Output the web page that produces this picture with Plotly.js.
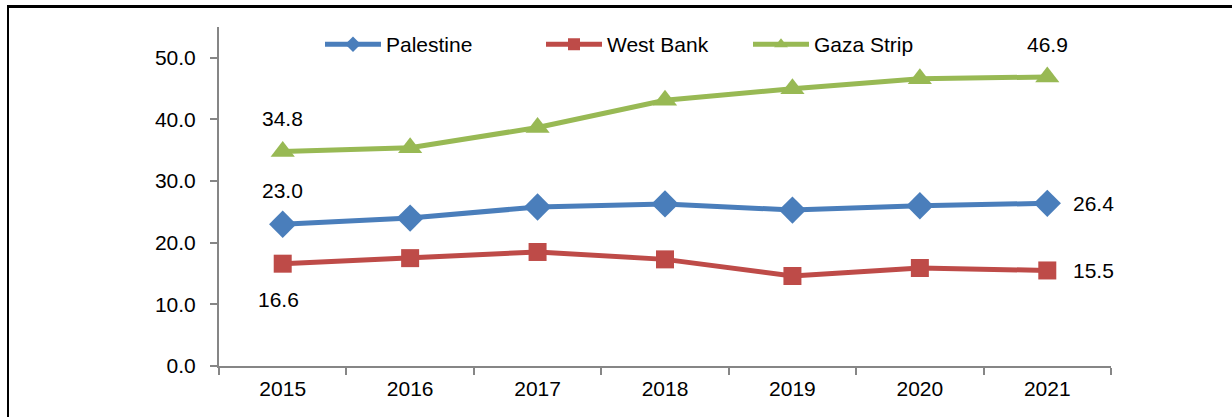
<!DOCTYPE html>
<html>
<head>
<meta charset="utf-8">
<script src="https://cdn.plot.ly/plotly-3.0.1.min.js"></script>
<style>
html,body{margin:0;padding:0;background:#fff;}
#wrap{position:relative;width:1232px;height:417px;overflow:hidden;}
#chart{position:absolute;left:0;top:0;width:1232px;height:417px;}
#frame{position:absolute;left:7px;top:5px;width:1240px;height:420px;border-top:3px solid #000;border-left:2px solid #000;pointer-events:none;}
</style>
</head>
<body>
<div id="wrap"><div id="chart"></div><div id="frame"></div></div>
<script>
var years = ["2015","2016","2017","2018","2019","2020","2021"];
var palestine = [23.0, 24.0, 25.8, 26.3, 25.3, 26.0, 26.4];
var westBank = [16.6, 17.5, 18.5, 17.3, 14.6, 15.9, 15.5];
var gaza = [34.8, 35.4, 38.7, 43.1, 45.0, 46.6, 46.9];
var yTicks = [0, 10, 20, 30, 40, 50];

var FONT = "Liberation Sans, Arial, sans-serif";
var FS = 21;
var blue = "#4A7EBB", red = "#BE4B48", green = "#98B954";

var traces = [
  {x: years, y: palestine, name: "Palestine", type: "scatter", mode: "lines+markers", legend: "legend",
   line: {color: blue, width: 5}, marker: {symbol: "diamond", size: 21, color: blue}},
  {x: years, y: westBank, name: "West Bank", type: "scatter", mode: "lines+markers", legend: "legend2",
   line: {color: red, width: 5}, marker: {symbol: "square", size: 18, color: red}},
  {x: years, y: gaza, name: "Gaza Strip", type: "scatter", mode: "lines+markers", legend: "legend3",
   line: {color: green, width: 5}, marker: {symbol: "triangle-up", size: 21, color: green}}
];

var last = years.length - 1;
function lab(idx, val, xs, ys) {
  return {x: idx, y: val, xref: "x", yref: "y", text: String(val.toFixed(1)), showarrow: false,
          xshift: xs, yshift: ys, font: {family: FONT, size: FS, color: "#000"}};
}
var annotations = [
  lab(0, gaza[0], 0, 33),
  lab(0, palestine[0], 0, 34),
  lab(0, westBank[0], -4, -36),
  lab(last, gaza[last], 0, 32),
  lab(last, palestine[last], 46, 0),
  lab(last, westBank[last], 46, 0)
];

function leg(px) {
  return {orientation: "h", x: (px - 219) / 892, y: 0.948, xanchor: "left", yanchor: "middle",
          font: {family: FONT, size: FS, color: "#000"}, itemwidth: 56, itemsizing: "constant",
          bgcolor: "rgba(0,0,0,0)", borderwidth: 0};
}

var layout = {
  width: 1232, height: 417,
  margin: {l: 219, r: 121, t: 27, b: 51, pad: 0},
  paper_bgcolor: "#fff", plot_bgcolor: "#fff",
  font: {family: FONT, size: FS, color: "#000"},
  showlegend: true,
  legend: leg(320), legend2: leg(541), legend3: leg(748),
  xaxis: {type: "category", range: [-0.5, 6.5], tickson: "boundaries", ticks: "outside",
          ticklen: 7, tickwidth: 2, tickcolor: "#868686", showline: true, linecolor: "#868686",
          linewidth: 2, showgrid: false, zeroline: false, fixedrange: true, ticklabelstandoff: 3,
          tickfont: {family: FONT, size: FS, color: "#000"}},
  yaxis: {range: [0, 55], tickvals: yTicks, tickformat: ".1f", ticks: "outside",
          ticklen: 7, tickwidth: 2, tickcolor: "#868686", showline: true, linecolor: "#868686",
          linewidth: 2, showgrid: false, zeroline: false, fixedrange: true, ticklabelstandoff: 10,
          tickfont: {family: FONT, size: FS, color: "#000"}},
  annotations: annotations
};

Plotly.newPlot("chart", traces, layout, {displayModeBar: false});
</script>
</body>
</html>
